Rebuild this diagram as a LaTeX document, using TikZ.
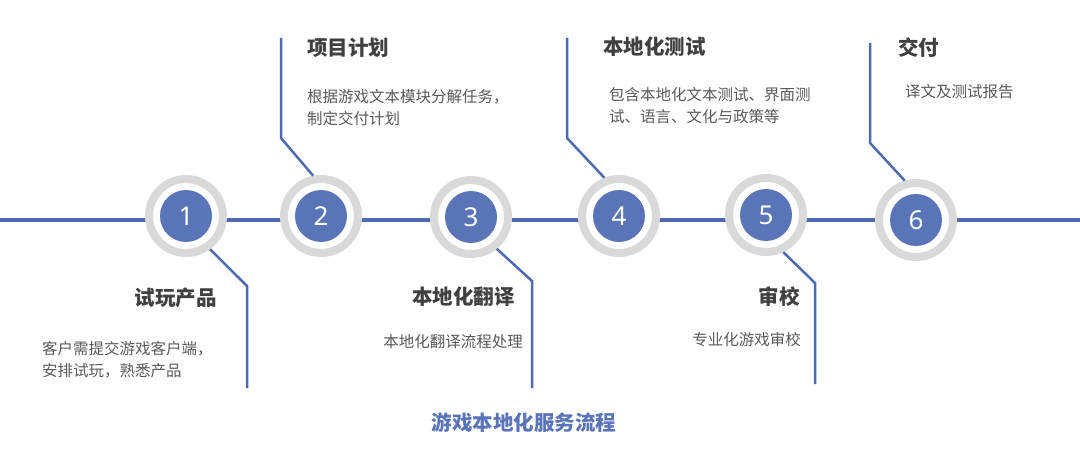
\documentclass[tikz,border=0pt]{standalone}
\usepackage{fontspec}
\setmainfont{Noto Sans}
\newfontfamily\cjk{Noto Sans CJK SC}
\usetikzlibrary{backgrounds}

\definecolor{lineblue}{HTML}{4E6AB1}
\definecolor{dotblue}{HTML}{5A74B8}
\definecolor{ringgray}{HTML}{D9D9D9}
\definecolor{titlegray}{HTML}{404040}
\definecolor{descgray}{HTML}{595959}

\tikzset{
    ring/.style={circle, draw=ringgray, line width=8pt, fill=white, minimum size=74pt, inner sep=0pt},
    dot/.style={circle, fill=dotblue, text=white, minimum size=52pt, inner sep=0pt, font=\fontsize{26}{26}\selectfont},
    link/.style={draw=lineblue, line width=4pt},
    callout/.style={draw=lineblue, line width=2.5pt},
    title/.style={inner sep=0pt, text=titlegray, font=\cjk\bfseries\fontsize{20.5}{24}\selectfont},
    desc/.style={inner sep=0pt, align=left, text=descgray, font=\cjk\fontsize{15.5}{22}\selectfont},
}

\begin{document}
\begin{tikzpicture}[x=1pt, y=-1pt]
    \useasboundingbox (0,0) rectangle (1080,460);

    % Draw nodes
    \node[ring] (r1) at (186,216) {};
    \node[ring] (r2) at (321,216) {};
    \node[ring] (r3) at (471,217) {};
    \node[ring] (r4) at (619,216) {};
    \node[ring] (r5) at (766,215) {};
    \node[ring] (r6) at (916,220) {};
    \node[dot] (c1) at (r1) {1};
    \node[dot] (c2) at (r2) {2};
    \node[dot] (c3) at (r3) {3};
    \node[dot] (c4) at (r4) {4};
    \node[dot] (c5) at (r5) {5};
    \node[dot] (c6) at (r6) {6};

    % Draw connections (behind the rings)
    \coordinate (w) at (0,220);
    \coordinate (e) at (1080,220);
    \begin{scope}[on background layer]
        \draw[link] (w) -- (w -| r1);
        \draw[link] (w -| r1) -- (w -| r2);
        \draw[link] (w -| r2) -- (w -| r3);
        \draw[link] (w -| r3) -- (w -| r4);
        \draw[link] (w -| r4) -- (w -| r5);
        \draw[link] (w -| r5) -- (w -| r6);
        \draw[link] (w -| r6) -- (e);
    \end{scope}

    % Callout lines
    \coordinate (k1) at (247,286);
    \coordinate (t1) at (247,388);
    \coordinate (k2) at (281,138);
    \coordinate (t2) at (281,38);
    \coordinate (k3) at (532,281);
    \coordinate (t3) at (532,388);
    \coordinate (k4) at (567,138);
    \coordinate (t4) at (567,38);
    \coordinate (k5) at (815,283);
    \coordinate (t5) at (815,384);
    \coordinate (k6) at (870,143);
    \coordinate (t6) at (870,43);
    \draw[callout] (r1.-54) -- (k1) -- (t1);
    \draw[callout] (r2.101) -- (k2) -- (t2);
    \draw[callout] (r3.-51) -- (k3) -- (t3);
    \draw[callout] (r4.111) -- (k4) -- (t4);
    \draw[callout] (r5.-65) -- (k5) -- (t5);
    \draw[callout] (r6.106) -- (k6) -- (t6);

    % Labels
    \node[title, anchor=east] (h1) at (217,298) {试玩产品};
    \node[desc, anchor=west] (d1) at (42,360) {客户需提交游戏客户端，\\安排试玩，熟悉产品};
    \node[title, anchor=west] (h2) at (307,48) {项目计划};
    \node[desc, anchor=west] (d2) at (307,108) {根据游戏文本模块分解任务，\\制定交付计划};
    \node[title, anchor=east] (h3) at (515,297) {本地化翻译};
    \node[desc, anchor=east] (d3) at (523,342) {本地化翻译流程处理};
    \node[title, anchor=west] (h4) at (603,47) {本地化测试};
    \node[desc, anchor=west] (d4) at (609,106) {包含本地化文本测试、界面测\\试、语言、文化与政策等};
    \node[title, anchor=east] (h5) at (800,297) {审校};
    \node[desc, anchor=east] (d5) at (801,340) {专业化游戏审校};
    \node[title, anchor=west] (h6) at (898,48) {交付};
    \node[desc, anchor=west] (d6) at (905,92) {译文及测试报告};

    \node[title, text=dotblue] (cap) at (524,423) {游戏本地化服务流程};
\end{tikzpicture}
\end{document}
